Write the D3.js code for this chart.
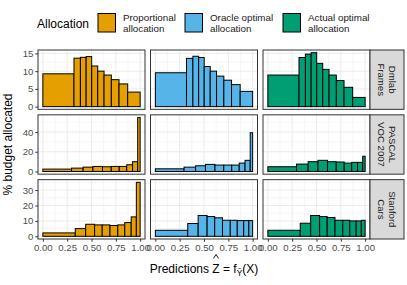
<!doctype html>
<html lang="en">
<head>
<meta charset="utf-8">
<title>Budget allocation by prediction</title>
<style>
body { margin: 0; background: #fff; font-family: "Liberation Sans", Arial, Helvetica, sans-serif; }
</style>
</head>
<body>
<div id="chart"></div>
<script src="https://d3js.org/d3.v7.min.js"></script>
<script>
// facets
var methods = ["Proportional\nallocation", "Oracle optimal\nallocation", "Actual optimal\nallocation"];
var methodColors = ["#E69F00", "#56B4E9", "#009E73"];
var datasets = ["Dmlab\nFrames", "PASCAL\nVOC 2007", "Stanford\nCars"];

// bin edges (predictions) per dataset
var dmlabEdges = [0, 0.32, 0.386, 0.445, 0.502, 0.564, 0.629, 0.704, 0.783, 0.872, 1.0];
var pascalEdges = [0, 0.295, 0.414, 0.515, 0.613, 0.703, 0.785, 0.862, 0.922, 0.975, 1.0];
var carsEdges = [0, 0.333, 0.44, 0.532, 0.61, 0.69, 0.77, 0.842, 0.908, 0.961, 1.0];

// % budget allocated per bin
var dmlabProportional = [9.25, 13.65, 13.9, 14.1, 11.45, 10.0, 8.9, 7.6, 6.4, 4.1];
var dmlabOracle = [9.55, 13.6, 14.2, 13.85, 11.3, 10.0, 8.6, 7.45, 6.2, 4.3];
var dmlabActual = [8.9, 13.85, 14.8, 15.2, 12.2, 10.5, 8.9, 7.35, 5.45, 2.6];
var pascalProportional = [2.4, 3.4, 4.4, 5.1, 4.8, 5.1, 5.1, 6.8, 9.9, 54.7];
var pascalOracle = [2.7, 4.4, 5.8, 7.2, 6.5, 6.5, 6.5, 8.5, 11.3, 39.3];
var pascalActual = [4.8, 7.5, 9.9, 11.3, 9.9, 9.6, 8.5, 9.2, 9.2, 15.4];
var carsProportional = [2.2, 5.0, 7.8, 7.4, 7.4, 7.0, 7.4, 8.9, 12.6, 35.0];
var carsOracle = [3.9, 8.3, 13.5, 12.8, 12.0, 10.4, 10.4, 10.2, 10.2, 10.2];
var carsActual = [3.9, 8.5, 13.5, 12.8, 12.2, 10.4, 10.4, 10.0, 10.0, 10.4];

// axis ticks
var xTicks = [0, 0.25, 0.5, 0.75, 1];
var yTicksByRow = [[0, 5, 10, 15], [0, 20, 40], [0, 10, 20, 30]];

var edgesByRow = [dmlabEdges, pascalEdges, carsEdges];
var valuesByRow = [
  [dmlabProportional, dmlabOracle, dmlabActual],
  [pascalProportional, pascalOracle, pascalActual],
  [carsProportional, carsOracle, carsActual]
];

var W = 407, H = 285;
var panelL = 38, panelR = 370, panelT = 50, panelB = 239, gap = 5.5, stripW = 34;
var pw = (panelR - panelL - 2 * gap) / 3;
var ph = (panelB - panelT - 2 * gap) / 3;

var svg = d3.select("#chart").append("svg")
  .attr("width", W).attr("height", H);

var x = d3.scaleLinear().domain([-0.05, 1.05]).range([0, pw]);

valuesByRow.forEach(function(rowVals, r) {
  var maxV = d3.max(rowVals, function(v) { return d3.max(v); });
  var y = d3.scaleLinear().domain([-0.05 * maxV, 1.05 * maxV]).range([ph, 0]);
  var yTicks = yTicksByRow[r];
  var step = yTicks[1] - yTicks[0];
  var yMinor = [];
  for (var i = 0; i < yTicks.length; i++) {
    var m = yTicks[i] + step / 2;
    if (m < 1.05 * maxV) yMinor.push(m);
  }
  var py = panelT + r * (ph + gap);

  rowVals.forEach(function(vals, c) {
    var px = panelL + c * (pw + gap);
    var g = svg.append("g").attr("transform", "translate(" + px + "," + py + ")");

    g.append("rect").attr("width", pw).attr("height", ph).attr("fill", "#fff");

    // grid
    var xMinor = [0.125, 0.375, 0.625, 0.875];
    g.selectAll(".xmin").data(xMinor).enter().append("line")
      .attr("x1", function(d) { return x(d); }).attr("x2", function(d) { return x(d); })
      .attr("y1", 0).attr("y2", ph)
      .attr("stroke", "#EBEBEB").attr("stroke-width", 0.5);
    g.selectAll(".ymin").data(yMinor).enter().append("line")
      .attr("x1", 0).attr("x2", pw)
      .attr("y1", function(d) { return y(d); }).attr("y2", function(d) { return y(d); })
      .attr("stroke", "#EBEBEB").attr("stroke-width", 0.5);
    g.selectAll(".xmaj").data(xTicks).enter().append("line")
      .attr("x1", function(d) { return x(d); }).attr("x2", function(d) { return x(d); })
      .attr("y1", 0).attr("y2", ph)
      .attr("stroke", "#EBEBEB").attr("stroke-width", 1);
    g.selectAll(".ymaj").data(yTicks).enter().append("line")
      .attr("x1", 0).attr("x2", pw)
      .attr("y1", function(d) { return y(d); }).attr("y2", function(d) { return y(d); })
      .attr("stroke", "#EBEBEB").attr("stroke-width", 1);

    // bars
    var edges = edgesByRow[r];
    g.selectAll(".bar").data(vals).enter().append("rect")
      .attr("x", function(d, i) { return x(edges[i]); })
      .attr("width", function(d, i) { return x(edges[i + 1]) - x(edges[i]); })
      .attr("y", function(d) { return y(d); })
      .attr("height", function(d) { return y(0) - y(d); })
      .attr("fill", methodColors[c])
      .attr("stroke", "#000").attr("stroke-width", 1);

    g.append("rect").attr("width", pw).attr("height", ph)
      .attr("fill", "none").attr("stroke", "#333333").attr("stroke-width", 1);

    if (c === 0) {
      var ya = g.append("g").call(d3.axisLeft(y).tickValues(yTicks).tickSize(2.7).tickPadding(2));
      ya.select(".domain").remove();
      ya.selectAll("line").attr("stroke", "#333333");
      ya.selectAll("text").attr("fill", "#4D4D4D").style("font-size", "9.6px")
        .style("font-family", "'Liberation Sans', Arial, sans-serif");
    }
    if (r === 2) {
      var xa = g.append("g").attr("transform", "translate(0," + ph + ")")
        .call(d3.axisBottom(x).tickValues(xTicks).tickFormat(d3.format(".2f")).tickSize(2.7).tickPadding(2));
      xa.select(".domain").remove();
      xa.selectAll("line").attr("stroke", "#333333");
      xa.selectAll("text").attr("fill", "#4D4D4D").style("font-size", "9.6px")
        .style("font-family", "'Liberation Sans', Arial, sans-serif");
    }
  });

  // strip
  var sg = svg.append("g").attr("transform", "translate(" + panelR + "," + py + ")");
  sg.append("rect").attr("width", stripW).attr("height", ph)
    .attr("fill", "#D9D9D9").attr("stroke", "#333333").attr("stroke-width", 1);
  var lines = datasets[r].split("\n");
  var st = sg.append("text")
    .attr("transform", "translate(" + (stripW / 2) + "," + (ph / 2) + ") rotate(90)")
    .attr("text-anchor", "middle").attr("fill", "#1A1A1A").style("font-size", "9.6px");
  lines.forEach(function(l, i) {
    st.append("tspan").attr("x", 0).attr("y", (i - (lines.length - 1) / 2) * 10.5 + 3.5).text(l);
  });
});

// y title
svg.append("text")
  .attr("transform", "translate(12," + ((panelT + panelB) / 2) + ") rotate(-90)")
  .attr("text-anchor", "middle").attr("fill", "#000").style("font-size", "12px")
  .text("% budget allocated");

// x title: Predictions Z-hat = f_{Y-hat}(X)
var xt = svg.append("text")
  .attr("x", (panelL + panelR) / 2).attr("y", 273)
  .attr("text-anchor", "middle").attr("fill", "#000").style("font-size", "12px");
xt.append("tspan").text("Predictions ");
xt.append("tspan").attr("id", "zhat").text("Z");
xt.append("tspan").text(" = f");
xt.append("tspan").attr("dy", 2.5).style("font-size", "8.5px").text("\u0176");
xt.append("tspan").attr("dy", -2.5).text("(X)");
var zb = svg.select("#zhat").node().getStartPositionOfChar(0);
var hx = zb.x + 3.7;
svg.append("path")
  .attr("d", "M" + (hx - 2.6) + ",258.5 L" + hx + ",254.5 L" + (hx + 2.6) + ",258.5")
  .attr("fill", "none").attr("stroke", "#000").attr("stroke-width", 0.9);

// legend
var lg = svg.append("g");
lg.append("text").attr("x", 37).attr("y", 27.5).style("font-size", "12px").attr("fill", "#000").text("Allocation");
var legX = [98, 185, 283];
methods.forEach(function(m, i) {
  lg.append("rect").attr("x", legX[i]).attr("y", 13.5).attr("width", 17.5).attr("height", 18.5)
    .attr("fill", methodColors[i]).attr("stroke", "#000").attr("stroke-width", 1);
  var t = lg.append("text").style("font-size", "9.8px").attr("fill", "#1A1A1A");
  m.split("\n").forEach(function(l, j) {
    t.append("tspan").attr("x", legX[i] + 25).attr("y", 20.8 + j * 10.8).text(l);
  });
});
</script>
</body>
</html>
